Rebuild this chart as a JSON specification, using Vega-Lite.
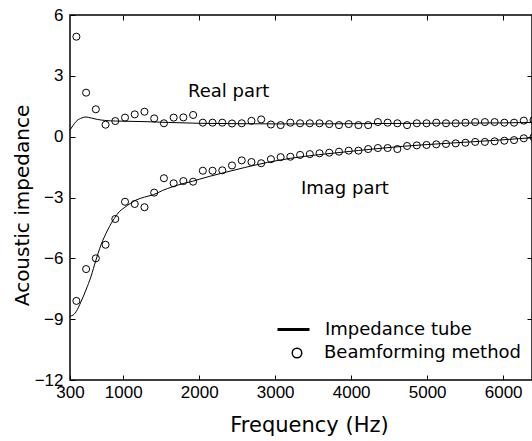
{
  "$schema": "https://vega.github.io/schema/vega-lite/v6.json",
  "autosize": {"type": "none"},
  "width": 462,
  "height": 365,
  "padding": {"left": 70, "top": 15, "right": 0, "bottom": 61},
  "background": "white",
  "datasets": {
    "tube": [
      {"part": "Real", "method": "Impedance tube", "f": 300, "z": 0.33},
      {"part": "Real", "method": "Impedance tube", "f": 340, "z": 0.55},
      {"part": "Real", "method": "Impedance tube", "f": 380, "z": 0.75},
      {"part": "Real", "method": "Impedance tube", "f": 440, "z": 0.9},
      {"part": "Real", "method": "Impedance tube", "f": 510, "z": 0.97},
      {"part": "Real", "method": "Impedance tube", "f": 580, "z": 0.92},
      {"part": "Real", "method": "Impedance tube", "f": 660, "z": 0.85},
      {"part": "Real", "method": "Impedance tube", "f": 760, "z": 0.8},
      {"part": "Real", "method": "Impedance tube", "f": 900, "z": 0.77},
      {"part": "Real", "method": "Impedance tube", "f": 1050, "z": 0.76},
      {"part": "Real", "method": "Impedance tube", "f": 1300, "z": 0.74},
      {"part": "Real", "method": "Impedance tube", "f": 1600, "z": 0.7},
      {"part": "Real", "method": "Impedance tube", "f": 2000, "z": 0.66},
      {"part": "Real", "method": "Impedance tube", "f": 2500, "z": 0.64},
      {"part": "Real", "method": "Impedance tube", "f": 3000, "z": 0.63},
      {"part": "Real", "method": "Impedance tube", "f": 3500, "z": 0.63},
      {"part": "Real", "method": "Impedance tube", "f": 4000, "z": 0.64},
      {"part": "Real", "method": "Impedance tube", "f": 4500, "z": 0.65},
      {"part": "Real", "method": "Impedance tube", "f": 5000, "z": 0.66},
      {"part": "Real", "method": "Impedance tube", "f": 5500, "z": 0.67},
      {"part": "Real", "method": "Impedance tube", "f": 6000, "z": 0.68},
      {"part": "Real", "method": "Impedance tube", "f": 6400, "z": 0.7},
      {"part": "Imag", "method": "Impedance tube", "f": 300, "z": -8.85},
      {"part": "Imag", "method": "Impedance tube", "f": 340, "z": -8.8},
      {"part": "Imag", "method": "Impedance tube", "f": 380, "z": -8.63},
      {"part": "Imag", "method": "Impedance tube", "f": 445, "z": -8.14},
      {"part": "Imag", "method": "Impedance tube", "f": 510, "z": -7.56},
      {"part": "Imag", "method": "Impedance tube", "f": 576, "z": -6.9},
      {"part": "Imag", "method": "Impedance tube", "f": 642, "z": -6.08},
      {"part": "Imag", "method": "Impedance tube", "f": 708, "z": -5.34},
      {"part": "Imag", "method": "Impedance tube", "f": 796, "z": -4.6},
      {"part": "Imag", "method": "Impedance tube", "f": 883, "z": -4.03},
      {"part": "Imag", "method": "Impedance tube", "f": 949, "z": -3.7},
      {"part": "Imag", "method": "Impedance tube", "f": 1015, "z": -3.5},
      {"part": "Imag", "method": "Impedance tube", "f": 1100, "z": -3.28},
      {"part": "Imag", "method": "Impedance tube", "f": 1168, "z": -3.13},
      {"part": "Imag", "method": "Impedance tube", "f": 1280, "z": -2.98},
      {"part": "Imag", "method": "Impedance tube", "f": 1400, "z": -2.86},
      {"part": "Imag", "method": "Impedance tube", "f": 1520, "z": -2.65},
      {"part": "Imag", "method": "Impedance tube", "f": 1650, "z": -2.47},
      {"part": "Imag", "method": "Impedance tube", "f": 1800, "z": -2.3},
      {"part": "Imag", "method": "Impedance tube", "f": 1914, "z": -2.2},
      {"part": "Imag", "method": "Impedance tube", "f": 2000, "z": -2.1},
      {"part": "Imag", "method": "Impedance tube", "f": 2300, "z": -1.8},
      {"part": "Imag", "method": "Impedance tube", "f": 2600, "z": -1.52},
      {"part": "Imag", "method": "Impedance tube", "f": 2900, "z": -1.27},
      {"part": "Imag", "method": "Impedance tube", "f": 3200, "z": -1.07},
      {"part": "Imag", "method": "Impedance tube", "f": 3500, "z": -0.92},
      {"part": "Imag", "method": "Impedance tube", "f": 3800, "z": -0.8},
      {"part": "Imag", "method": "Impedance tube", "f": 4100, "z": -0.68},
      {"part": "Imag", "method": "Impedance tube", "f": 4400, "z": -0.57},
      {"part": "Imag", "method": "Impedance tube", "f": 4700, "z": -0.47},
      {"part": "Imag", "method": "Impedance tube", "f": 5000, "z": -0.39},
      {"part": "Imag", "method": "Impedance tube", "f": 5300, "z": -0.32},
      {"part": "Imag", "method": "Impedance tube", "f": 5600, "z": -0.25},
      {"part": "Imag", "method": "Impedance tube", "f": 5900, "z": -0.18},
      {"part": "Imag", "method": "Impedance tube", "f": 6200, "z": -0.1},
      {"part": "Imag", "method": "Impedance tube", "f": 6400, "z": -0.05}
    ],
    "beam": [
      {"part": "Real", "method": "Beamforming method", "f": 384, "z": 4.93},
      {"part": "Real", "method": "Beamforming method", "f": 512, "z": 2.17},
      {"part": "Real", "method": "Beamforming method", "f": 640, "z": 1.35},
      {"part": "Real", "method": "Beamforming method", "f": 768, "z": 0.59},
      {"part": "Real", "method": "Beamforming method", "f": 896, "z": 0.77},
      {"part": "Real", "method": "Beamforming method", "f": 1024, "z": 0.94},
      {"part": "Real", "method": "Beamforming method", "f": 1152, "z": 1.1},
      {"part": "Real", "method": "Beamforming method", "f": 1280, "z": 1.23},
      {"part": "Real", "method": "Beamforming method", "f": 1408, "z": 0.9},
      {"part": "Real", "method": "Beamforming method", "f": 1536, "z": 0.66},
      {"part": "Real", "method": "Beamforming method", "f": 1664, "z": 0.94},
      {"part": "Real", "method": "Beamforming method", "f": 1792, "z": 0.95},
      {"part": "Real", "method": "Beamforming method", "f": 1920, "z": 1.07},
      {"part": "Real", "method": "Beamforming method", "f": 2048, "z": 0.69},
      {"part": "Real", "method": "Beamforming method", "f": 2176, "z": 0.69},
      {"part": "Real", "method": "Beamforming method", "f": 2304, "z": 0.69},
      {"part": "Real", "method": "Beamforming method", "f": 2432, "z": 0.65},
      {"part": "Real", "method": "Beamforming method", "f": 2560, "z": 0.66},
      {"part": "Real", "method": "Beamforming method", "f": 2688, "z": 0.78},
      {"part": "Real", "method": "Beamforming method", "f": 2816, "z": 0.85},
      {"part": "Real", "method": "Beamforming method", "f": 2944, "z": 0.6},
      {"part": "Real", "method": "Beamforming method", "f": 3072, "z": 0.57},
      {"part": "Real", "method": "Beamforming method", "f": 3200, "z": 0.69},
      {"part": "Real", "method": "Beamforming method", "f": 3328, "z": 0.66},
      {"part": "Real", "method": "Beamforming method", "f": 3456, "z": 0.66},
      {"part": "Real", "method": "Beamforming method", "f": 3584, "z": 0.66},
      {"part": "Real", "method": "Beamforming method", "f": 3712, "z": 0.62},
      {"part": "Real", "method": "Beamforming method", "f": 3840, "z": 0.57},
      {"part": "Real", "method": "Beamforming method", "f": 3968, "z": 0.62},
      {"part": "Real", "method": "Beamforming method", "f": 4096, "z": 0.57},
      {"part": "Real", "method": "Beamforming method", "f": 4224, "z": 0.57},
      {"part": "Real", "method": "Beamforming method", "f": 4352, "z": 0.72},
      {"part": "Real", "method": "Beamforming method", "f": 4480, "z": 0.69},
      {"part": "Real", "method": "Beamforming method", "f": 4608, "z": 0.66},
      {"part": "Real", "method": "Beamforming method", "f": 4736, "z": 0.57},
      {"part": "Real", "method": "Beamforming method", "f": 4864, "z": 0.66},
      {"part": "Real", "method": "Beamforming method", "f": 4992, "z": 0.66},
      {"part": "Real", "method": "Beamforming method", "f": 5120, "z": 0.69},
      {"part": "Real", "method": "Beamforming method", "f": 5248, "z": 0.66},
      {"part": "Real", "method": "Beamforming method", "f": 5376, "z": 0.66},
      {"part": "Real", "method": "Beamforming method", "f": 5504, "z": 0.69},
      {"part": "Real", "method": "Beamforming method", "f": 5632, "z": 0.72},
      {"part": "Real", "method": "Beamforming method", "f": 5760, "z": 0.72},
      {"part": "Real", "method": "Beamforming method", "f": 5888, "z": 0.72},
      {"part": "Real", "method": "Beamforming method", "f": 6016, "z": 0.69},
      {"part": "Real", "method": "Beamforming method", "f": 6144, "z": 0.69},
      {"part": "Real", "method": "Beamforming method", "f": 6272, "z": 0.79},
      {"part": "Real", "method": "Beamforming method", "f": 6400, "z": 0.82},
      {"part": "Imag", "method": "Beamforming method", "f": 384, "z": -8.1},
      {"part": "Imag", "method": "Beamforming method", "f": 512, "z": -6.53},
      {"part": "Imag", "method": "Beamforming method", "f": 640, "z": -6.0},
      {"part": "Imag", "method": "Beamforming method", "f": 768, "z": -5.33},
      {"part": "Imag", "method": "Beamforming method", "f": 896, "z": -4.06},
      {"part": "Imag", "method": "Beamforming method", "f": 1024, "z": -3.21},
      {"part": "Imag", "method": "Beamforming method", "f": 1152, "z": -3.32},
      {"part": "Imag", "method": "Beamforming method", "f": 1280, "z": -3.48},
      {"part": "Imag", "method": "Beamforming method", "f": 1408, "z": -2.76},
      {"part": "Imag", "method": "Beamforming method", "f": 1536, "z": -2.05},
      {"part": "Imag", "method": "Beamforming method", "f": 1664, "z": -2.3},
      {"part": "Imag", "method": "Beamforming method", "f": 1792, "z": -2.19},
      {"part": "Imag", "method": "Beamforming method", "f": 1920, "z": -2.22},
      {"part": "Imag", "method": "Beamforming method", "f": 2048, "z": -1.68},
      {"part": "Imag", "method": "Beamforming method", "f": 2176, "z": -1.68},
      {"part": "Imag", "method": "Beamforming method", "f": 2304, "z": -1.66},
      {"part": "Imag", "method": "Beamforming method", "f": 2432, "z": -1.42},
      {"part": "Imag", "method": "Beamforming method", "f": 2560, "z": -1.17},
      {"part": "Imag", "method": "Beamforming method", "f": 2688, "z": -1.25},
      {"part": "Imag", "method": "Beamforming method", "f": 2816, "z": -1.31},
      {"part": "Imag", "method": "Beamforming method", "f": 2944, "z": -1.11},
      {"part": "Imag", "method": "Beamforming method", "f": 3072, "z": -1.01},
      {"part": "Imag", "method": "Beamforming method", "f": 3200, "z": -0.99},
      {"part": "Imag", "method": "Beamforming method", "f": 3328, "z": -0.9},
      {"part": "Imag", "method": "Beamforming method", "f": 3456, "z": -0.86},
      {"part": "Imag", "method": "Beamforming method", "f": 3584, "z": -0.82},
      {"part": "Imag", "method": "Beamforming method", "f": 3712, "z": -0.79},
      {"part": "Imag", "method": "Beamforming method", "f": 3840, "z": -0.74},
      {"part": "Imag", "method": "Beamforming method", "f": 3968, "z": -0.69},
      {"part": "Imag", "method": "Beamforming method", "f": 4096, "z": -0.69},
      {"part": "Imag", "method": "Beamforming method", "f": 4224, "z": -0.61},
      {"part": "Imag", "method": "Beamforming method", "f": 4352, "z": -0.56},
      {"part": "Imag", "method": "Beamforming method", "f": 4480, "z": -0.56},
      {"part": "Imag", "method": "Beamforming method", "f": 4608, "z": -0.61},
      {"part": "Imag", "method": "Beamforming method", "f": 4736, "z": -0.46},
      {"part": "Imag", "method": "Beamforming method", "f": 4864, "z": -0.43},
      {"part": "Imag", "method": "Beamforming method", "f": 4992, "z": -0.41},
      {"part": "Imag", "method": "Beamforming method", "f": 5120, "z": -0.38},
      {"part": "Imag", "method": "Beamforming method", "f": 5248, "z": -0.36},
      {"part": "Imag", "method": "Beamforming method", "f": 5376, "z": -0.33},
      {"part": "Imag", "method": "Beamforming method", "f": 5504, "z": -0.3},
      {"part": "Imag", "method": "Beamforming method", "f": 5632, "z": -0.26},
      {"part": "Imag", "method": "Beamforming method", "f": 5760, "z": -0.26},
      {"part": "Imag", "method": "Beamforming method", "f": 5888, "z": -0.23},
      {"part": "Imag", "method": "Beamforming method", "f": 6016, "z": -0.2},
      {"part": "Imag", "method": "Beamforming method", "f": 6144, "z": -0.17},
      {"part": "Imag", "method": "Beamforming method", "f": 6272, "z": -0.08},
      {"part": "Imag", "method": "Beamforming method", "f": 6400, "z": -0.03}
    ],
    "notes": [
      {"f": 2388, "z": 1.94, "label": "Real part"},
      {"f": 3918, "z": -2.83, "label": "Imag part"}
    ]
  },
  "layer": [
    {
      "data": {"name": "beam"},
      "mark": {"type": "point", "shape": "circle", "filled": false, "stroke": "black", "strokeWidth": 1, "size": 50, "opacity": 1, "clip": false},
      "encoding": {
        "x": {"field": "f", "type": "quantitative", "scale": {"domain": [300, 6380], "nice": false, "zero": false},
          "axis": {"orient": "top", "values": [1000, 2000, 3000, 4000, 5000, 6000], "labels": false, "title": null, "tickSize": -5}},
        "y": {"field": "z", "type": "quantitative", "scale": {"domain": [-12, 6], "nice": false, "zero": false},
          "axis": {"orient": "right", "values": [3, 0, -3, -6, -9], "labels": false, "title": null, "tickSize": -5}},
        "shape": {"field": "method", "type": "nominal", "scale": {"range": ["circle"]},
          "legend": {"orient": "none", "legendX": 218, "legendY": 329, "title": null, "padding": 0, "offset": 0,
            "symbolSize": 90, "symbolStrokeColor": "black", "symbolFillColor": "transparent", "symbolStrokeWidth": 1.5,
            "labelFont": "DejaVu Sans", "labelFontSize": 18, "labelColor": "black", "labelOffset": 18, "labelLimit": 400}}
      }
    },
    {
      "data": {"name": "tube"},
      "mark": {"type": "line", "strokeWidth": 1, "interpolate": "monotone"},
      "encoding": {
        "x": {"field": "f", "type": "quantitative",
          "axis": {"orient": "bottom", "values": [300, 1000, 2000, 3000, 4000, 5000, 6000], "format": "d", "title": "Frequency (Hz)", "tickSize": -5, "labelPadding": 9, "labelFlush": false,
            "titleFontSize": 21, "titleX": 239, "titleY": 51, "titleBaseline": "alphabetic", "titleAlign": "center"}},
        "y": {"field": "z", "type": "quantitative",
          "axis": {"orient": "left", "values": [6, 3, 0, -3, -6, -9, -12], "format": "d", "title": "Acoustic impedance", "tickSize": -5, "labelPadding": 12,
            "titleFontSize": 20, "titleX": -42, "titleY": 190, "titleBaseline": "alphabetic", "titleAlign": "center", "titleAngle": -90}},
        "detail": {"field": "part"},
        "stroke": {"field": "method", "type": "nominal", "scale": {"range": ["black"]},
          "legend": {"orient": "none", "legendX": 206, "legendY": 297, "title": null, "padding": 0, "offset": 0,
            "symbolType": "stroke", "symbolSize": 1024, "symbolStrokeWidth": 3, "symbolStrokeColor": "black",
            "labelFont": "DejaVu Sans", "labelFontSize": 18, "labelColor": "black", "labelOffset": 14, "labelLimit": 400}}
      }
    },
    {
      "data": {"name": "notes"},
      "mark": {"type": "text", "font": "DejaVu Sans", "fontSize": 18, "color": "black", "align": "center", "baseline": "alphabetic"},
      "encoding": {
        "x": {"field": "f", "type": "quantitative", "axis": null},
        "y": {"field": "z", "type": "quantitative", "axis": null},
        "text": {"field": "label"}
      }
    }
  ],
  "config": {
    "view": {"stroke": "black", "strokeWidth": 1.5},
    "axis": {"grid": false, "domain": false, "tickColor": "black", "tickWidth": 1,
      "labelFont": "Liberation Sans", "labelFontSize": 17, "labelColor": "black",
      "titleFont": "DejaVu Sans", "titleColor": "black", "titleFontWeight": "normal"}
  }
}
